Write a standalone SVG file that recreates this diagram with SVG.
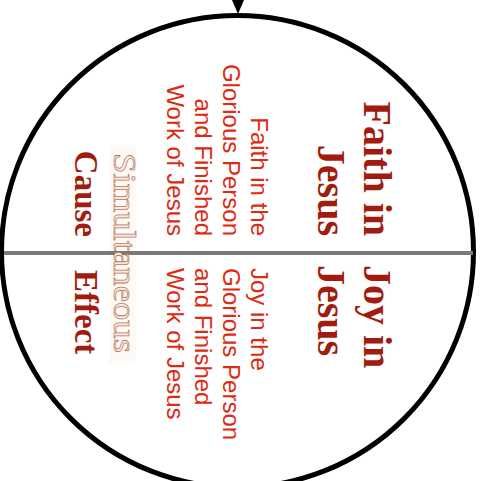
<svg xmlns="http://www.w3.org/2000/svg" width="482" height="481" viewBox="0 0 482 481">
<style>
.bold{font-family:"Liberation Serif",serif;font-weight:bold;fill:#a11c0e}
.big{font-size:40px}
.mid{font-size:33px}
.sans{font-family:"Liberation Sans",Arial,sans-serif;font-size:24px;fill:#dd2a12}
.sim{font-family:"Liberation Serif",serif;font-size:31px;fill:#f9e8de;stroke:#b9785f;stroke-width:0.7}
</style>
<rect width="482" height="481" fill="#ffffff"/>
<rect x="109" y="145" width="27" height="218" fill="#fdf9f5"/>
<g id="circle">
<circle cx="237.5" cy="251.5" r="236" fill="none" stroke="#000" stroke-width="5"/>
</g>
<g id="connectors">
<line x1="4" y1="253" x2="473" y2="253" stroke="#7a7a7a" stroke-width="4"/>
<polygon points="232,0 244,0 238,14" fill="#000"/>
</g>
<g id="faith-in-jesus">
<text class="bold big" text-anchor="end" transform="translate(364,236) rotate(90)">Faith in</text>
<text class="bold big" text-anchor="end" transform="translate(318,236) rotate(90)">Jesus</text>
</g>
<g id="joy-in-jesus">
<text class="bold big" transform="translate(364,265) rotate(90)">Joy in</text>
<text class="bold big" transform="translate(318,265) rotate(90)">Jesus</text>
</g>
<g id="faith-desc">
<text class="sans" text-anchor="end" transform="translate(251,236) rotate(90)">Faith in the</text>
<text class="sans" text-anchor="end" transform="translate(223,236) rotate(90)">Glorious Person</text>
<text class="sans" text-anchor="end" transform="translate(195,236) rotate(90)">and Finished</text>
<text class="sans" text-anchor="end" transform="translate(167,236) rotate(90)">Work of Jesus</text>
</g>
<g id="joy-desc">
<text class="sans" transform="translate(251,268) rotate(90)">Joy in the</text>
<text class="sans" transform="translate(223,268) rotate(90)">Glorious Person</text>
<text class="sans" transform="translate(195,268) rotate(90)">and Finished</text>
<text class="sans" transform="translate(167,268) rotate(90)">Work of Jesus</text>
</g>
<g id="simultaneous">
<text class="sim" transform="translate(114,153) rotate(90)" textLength="200" lengthAdjust="spacingAndGlyphs">Simultaneous</text>
</g>
<g id="cause">
<text class="bold mid" text-anchor="end" transform="translate(75,237) rotate(90)">Cause</text>
</g>
<g id="effect">
<text class="bold mid" transform="translate(75,270) rotate(90)">Effect</text>
</g>
</svg>
